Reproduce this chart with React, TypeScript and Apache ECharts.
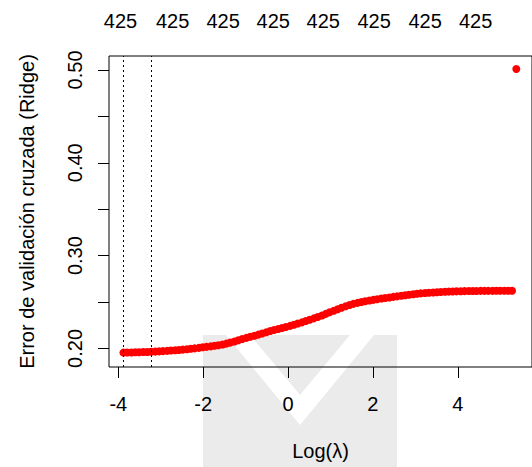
import React, { useEffect, useRef } from "react";
import * as echarts from "echarts";

// log(lambda) grid and cross-validated error (Ridge)
const logLambda = [
  -3.88, -3.79, -3.69, -3.6, -3.51, -3.41, -3.32, -3.23, -3.13, -3.04,
  -2.95, -2.85, -2.76, -2.66, -2.57, -2.48, -2.38, -2.29, -2.2, -2.1,
  -2.01, -1.92, -1.82, -1.73, -1.64, -1.54, -1.45, -1.36, -1.26, -1.17,
  -1.08, -0.98, -0.89, -0.79, -0.7, -0.61, -0.51, -0.42, -0.33, -0.23,
  -0.14, -0.05, 0.05, 0.14, 0.23, 0.33, 0.42, 0.51, 0.61, 0.7,
  0.8, 0.89, 0.98, 1.08, 1.17, 1.26, 1.36, 1.45, 1.54, 1.64,
  1.73, 1.82, 1.92, 2.01, 2.1, 2.2, 2.29, 2.39, 2.48, 2.57,
  2.67, 2.76, 2.85, 2.95, 3.04, 3.13, 3.23, 3.32, 3.42, 3.51,
  3.6, 3.7, 3.79, 3.88, 3.97, 4.07, 4.16, 4.26, 4.35, 4.44,
  4.54, 4.63, 4.72, 4.82, 4.91, 5.0, 5.1, 5.19, 5.28, 5.38,
];
const cvError = [
  0.1955, 0.1956, 0.1957, 0.1958, 0.1959, 0.1961, 0.1962, 0.1964, 0.1966, 0.1968,
  0.1971, 0.1974, 0.1977, 0.198, 0.1984, 0.1987, 0.1991, 0.1996, 0.2001, 0.2006,
  0.2012, 0.2017, 0.2022, 0.2028, 0.2034, 0.2042, 0.2052, 0.2063, 0.2075, 0.2088,
  0.2102, 0.2114, 0.2125, 0.2137, 0.2149, 0.2161, 0.2174, 0.2187, 0.2199, 0.221,
  0.222, 0.2231, 0.2243, 0.2255, 0.2268, 0.2281, 0.2295, 0.2309, 0.2324, 0.2339,
  0.2355, 0.2372, 0.2389, 0.2406, 0.2422, 0.2438, 0.2454, 0.2468, 0.248, 0.2491,
  0.25, 0.2508, 0.2516, 0.2523, 0.253, 0.2537, 0.2543, 0.2549, 0.2555, 0.2561,
  0.2567, 0.2573, 0.2579, 0.2584, 0.2589, 0.2593, 0.2597, 0.26, 0.2603, 0.2606,
  0.2608, 0.261, 0.2612, 0.2614, 0.2615, 0.2616, 0.2617, 0.2618, 0.2619, 0.2619,
  0.262, 0.262, 0.262, 0.262, 0.2621, 0.2621, 0.2621, 0.2621, 0.2621, 0.501,
];
const verticalLines = [-3.88, -3.22];
const xTicks = [-4, -2, 0, 2, 4];
const yTicks = [0.2, 0.25, 0.3, 0.35, 0.4, 0.45, 0.5];
const yLabels = [0.2, 0.3, 0.4, 0.5];
const topPositions = [-3.95, -2.72, -1.53, -0.35, 0.83, 2.03, 3.23, 4.42];
const topLabels = ["425", "425", "425", "425", "425", "425", "425", "425"];

const FONT = "Liberation Sans, Arial, sans-serif";
const FS = 20;

export default function App() {
  const ref = useRef<HTMLDivElement>(null);
  useEffect(() => {
    if (!ref.current) return;
    const chart = echarts.init(ref.current, null, { renderer: "svg" });
    const gray = "#ebebeb";
    chart.setOption({
      animation: false,
      backgroundColor: "#ffffff",
      textStyle: { fontFamily: FONT },
      graphic: [
        {
          type: "rect",
          z: -5,
          silent: true,
          shape: { x: 203, y: 335, width: 194, height: 140 },
          style: { fill: gray },
        },
        {
          type: "polygon",
          z: -4,
          silent: true,
          shape: {
            points: [
              [226, 335],
              [250, 335],
              [300, 395],
              [350, 335],
              [374, 335],
              [300, 425],
            ],
          },
          style: { fill: "#ffffff" },
        },
      ],
      grid: {
        left: 109,
        top: 56,
        bottom: 100,
        right: -9.5,
        show: true,
        borderColor: "#000",
        borderWidth: 1,
        backgroundColor: "transparent",
      },
      xAxis: [
        {
          type: "value",
          min: -4.22,
          max: 5.75,
          position: "bottom",
          name: "Log(λ)",
          nameLocation: "middle",
          nameGap: 74,
          nameTextStyle: { fontSize: FS, color: "#000", fontFamily: FONT },
          axisLine: { show: false, onZero: false },
          splitLine: { show: false },
          axisTick: {
            show: true,
            inside: false,
            length: 11,
            customValues: xTicks,
            lineStyle: { color: "#000", width: 1 },
          },
          axisLabel: {
            customValues: xTicks,
            margin: 27,
            fontSize: FS,
            color: "#000",
            fontFamily: FONT,
            formatter: (v: number) => String(Math.round(v)),
          },
        },
        {
          type: "value",
          min: -4.22,
          max: 5.75,
          position: "top",
          axisLine: { show: false, onZero: false },
          axisTick: { show: false },
          splitLine: { show: false },
          axisLabel: {
            customValues: topPositions,
            margin: 25,
            fontSize: FS,
            color: "#000",
            fontFamily: FONT,
            formatter: (v: number) => {
              const i = topPositions.findIndex((p) => Math.abs(p - v) < 1e-6);
              return i >= 0 ? topLabels[i] : "";
            },
          },
        },
      ],
      yAxis: {
        type: "value",
        min: 0.18,
        max: 0.515,
        position: "left",
        name: "Error de validación cruzada (Ridge)",
        nameLocation: "middle",
        nameGap: 72,
        nameTextStyle: { fontSize: FS, color: "#000", fontFamily: FONT },
        axisLine: { show: false, onZero: false },
        splitLine: { show: false },
        axisTick: {
          show: true,
          inside: false,
          length: 11,
          customValues: yTicks,
          lineStyle: { color: "#000", width: 1 },
        },
        axisLabel: {
          customValues: yLabels,
          rotate: 90,
          margin: 24,
          fontSize: FS,
          color: "#000",
          fontFamily: FONT,
          formatter: (v: number) => v.toFixed(2),
        },
      },
      series: [
        {
          type: "scatter",
          xAxisIndex: 0,
          yAxisIndex: 0,
          symbol: "circle",
          symbolSize: 8,
          itemStyle: { color: "#ff0000", opacity: 1 },
          data: logLambda.map((x, i) => [x, cvError[i]]),
          markLine: {
            silent: true,
            symbol: ["none", "none"],
            label: { show: false },
            lineStyle: { type: [2, 3], color: "#000", width: 1 },
            data: verticalLines.map((v) => ({ xAxis: v })),
          },
        },
      ],
    });
    return () => chart.dispose();
  }, []);
  return (
    <div
      ref={ref}
      style={{ position: "absolute", left: 0, top: 0, width: 532, height: 467 }}
    />
  );
}
